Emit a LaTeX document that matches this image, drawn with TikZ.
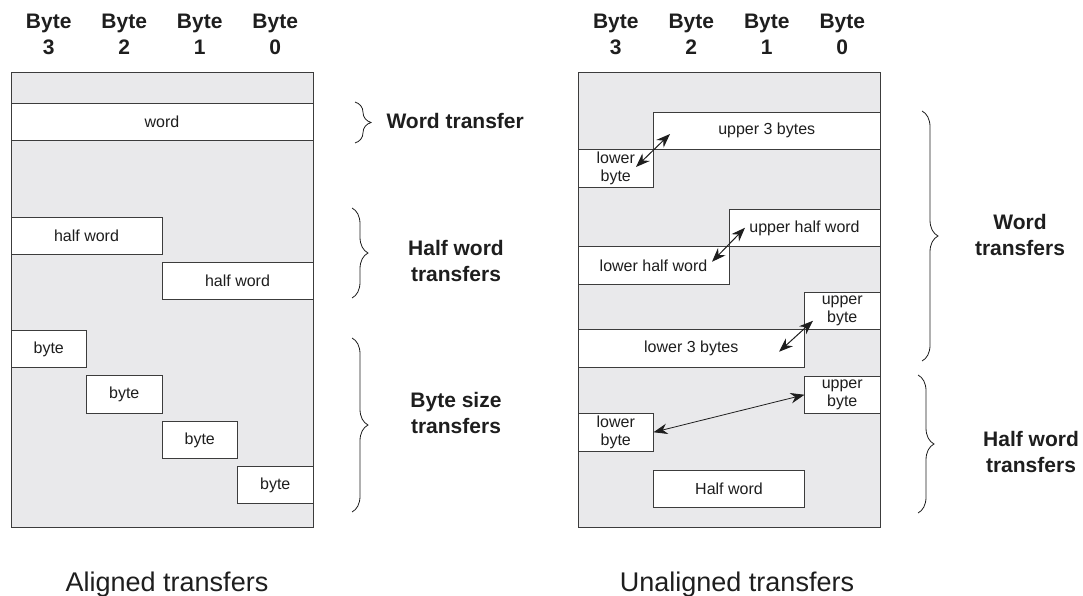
\documentclass[tikz,border=0pt]{standalone}
\usepackage{fontspec}
\setmainfont{Liberation Sans}
\usetikzlibrary{arrows.meta,decorations.pathreplacing,calc}
\definecolor{panelgray}{RGB}{233,233,235}
\definecolor{linegray}{RGB}{60,60,60}
\definecolor{inkc}{RGB}{30,30,30}
\begin{document}
\begin{tikzpicture}[x=1pt,y=-1pt,
  panel/.style={draw=linegray, fill=panelgray, line width=1pt, inner sep=0pt, outer sep=0pt, minimum width=302pt, minimum height=454pt},
  cell/.style={draw=linegray, fill=white, line width=0.9pt, inner sep=0pt, outer sep=0pt, minimum height=37.5pt, font=\fontsize{16}{18}\selectfont, text=inkc, align=center},
  hdr/.style={font=\bfseries\fontsize{21}{26}\selectfont, align=center, text=inkc, anchor=base},
  lbl/.style={font=\bfseries\fontsize{21}{26}\selectfont, align=center, text=inkc, anchor=base},
  captxt/.style={font=\fontsize{27}{30}\selectfont, text=inkc, anchor=base},
  dbl/.style={{Stealth[length=14pt,width=10.5pt]}-{Stealth[length=14pt,width=10.5pt]}, line width=1pt, draw=inkc},
  brc/.style={decorate, decoration={brace, amplitude=16pt}, line width=0.8pt, draw=inkc}
]
\useasboundingbox (0,0) rectangle (1083,596);

% ---------- left panel ----------
\node[panel] (pL) at (162,300) {};
\node[hdr] (hL3) at (48.75,55) {Byte\\3};
\node[hdr] (hL2) at (124.25,55) {Byte\\2};
\node[hdr] (hL1) at (199.75,55) {Byte\\1};
\node[hdr] (hL0) at (275.25,55) {Byte\\0};

\node[cell, minimum width=302pt] (word) at (162,122) {word};
\node[cell, minimum width=151pt] (hwa) at (86.5,236) {half word};
\node[cell, minimum width=151pt] (hwb) at (237.5,281) {half word};
\node[cell, minimum width=75.5pt] (ba) at (48.75,349) {byte};
\node[cell, minimum width=75.5pt] (bb) at (124.25,394.5) {byte};
\node[cell, minimum width=75.5pt] (bc) at (199.75,440) {byte};
\node[cell, minimum width=75.5pt] (bd) at (275.25,485) {byte};

\draw[brc] (355,102) -- (355,143);
\draw[brc] (352,208) -- (352,298);
\draw[brc] (352,338) -- (352,512);
\node[lbl, anchor=base west] (lwt) at (383,129) {Word transfer};
\node[lbl] (lhwt) at (456,281) {Half word\\transfers};
\node[lbl] (lbst) at (456,433) {Byte size\\transfers};

\node[captxt] (capL) at (167,591) {Aligned transfers};

% ---------- right panel ----------
\node[panel] (pR) at (729,300) {};
\node[hdr] (hR3) at (615.75,55) {Byte\\3};
\node[hdr] (hR2) at (691.25,55) {Byte\\2};
\node[hdr] (hR1) at (766.75,55) {Byte\\1};
\node[hdr] (hR0) at (842.25,55) {Byte\\0};

\node[cell, minimum width=226.5pt] (u3) at (766.75,130.75) {upper 3 bytes};
\node[cell, minimum width=75.5pt] (lb1) at (615.75,168.25) {lower\\byte};
\node[cell, minimum width=151pt] (uhw) at (804.5,228) {upper half word};
\node[cell, minimum width=151pt] (lhw) at (653.5,265.5) {lower half word};
\node[cell, minimum width=75.5pt] (ub1) at (842.25,311) {upper\\byte};
\node[cell, minimum width=226.5pt] (l3) at (691.25,348.5) {lower 3 bytes};
\node[cell, minimum width=75.5pt] (ub2) at (842.25,394.75) {upper\\byte};
\node[cell, minimum width=75.5pt] (lb2) at (615.75,432.25) {lower\\byte};
\node[cell, minimum width=151pt] (hw) at (729,489) {Half word};

\draw[dbl] ($(lb1.north east)+(-17.5,17.5)$) -- ($(u3.south west)+(16.5,-15.5)$);
\draw[dbl] ($(lhw.north east)+(-17,15)$) -- ($(uhw.south west)+(16,-19)$);
\draw[dbl] ($(l3.north east)+(-25.5,22)$) -- ($(ub1.south west)+(8.5,-9)$);
\draw[dbl, line width=0.8pt] (lb2.east) -- (ub2.west);

\draw[brc] (922,111) -- (922,361);
\draw[brc] (918,375) -- (918,513);
\node[lbl] (rwt) at (1020,255) {Word\\transfers};
\node[lbl] (rhwt) at (1031,472) {Half word\\transfers};

\node[captxt] (capR) at (737,591) {Unaligned transfers};
\end{tikzpicture}
\end{document}
